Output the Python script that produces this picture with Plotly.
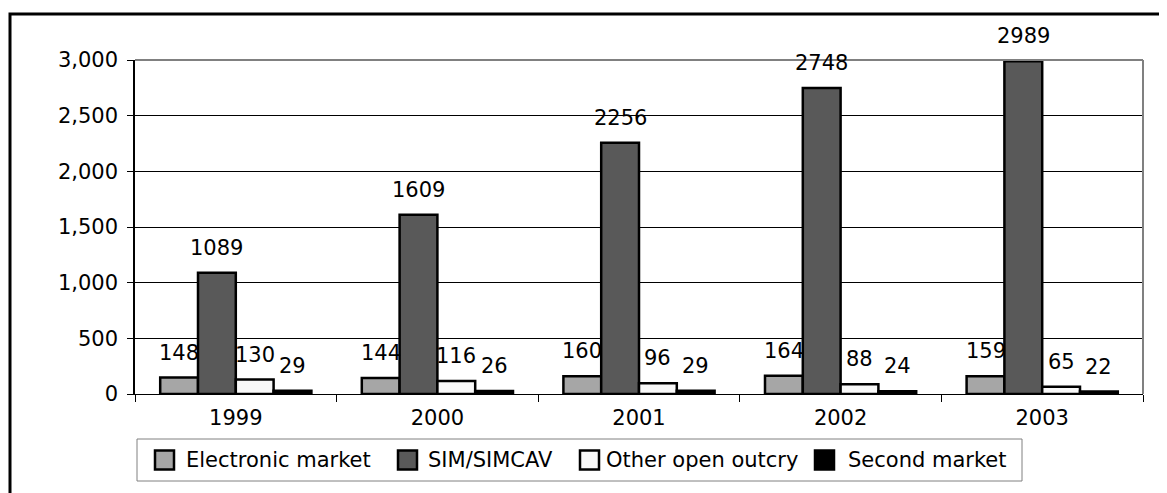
import plotly.graph_objects as go

# values
years = ["1999", "2000", "2001", "2002", "2003"]
electronic = [148, 144, 160, 164, 159]
sim_simcav = [1089, 1609, 2256, 2748, 2989]
other_outcry = [130, 116, 96, 88, 65]
second_market = [29, 26, 29, 24, 22]

series_names = ["Electronic market", "SIM/SIMCAV", "Other open outcry", "Second market"]
series_values = [electronic, sim_simcav, other_outcry, second_market]
colors = ["#a6a6a6", "#595959", "#f8f8f8", "#000000"]

y_ticks = [0, 500, 1000, 1500, 2000, 2500, 3000]

FONT = "DejaVu Sans"
FS = 21
OFF = 8  # page body margin around the plot div
W, H = 1167 - OFF, 493 - OFF
L, R, T, B = 135 - OFF, 24, 60 - OFF, 99
BARGAP = 0.25

# legend layout (page pixels): swatch left edges and label left edges
LEG_BOX = (137, 439, 1022, 481)
LEG_SWATCH_X = [155, 398, 580, 815]
LEG_TEXT_X = [184, 426, 604, 846]
LEG_MID_Y = 460
SWATCH = 19

fig = go.Figure()

for name, vals, col in zip(series_names, series_values, colors):
    fig.add_bar(name=name, x=years, y=vals, marker_color=col,
                marker_line=dict(color="black", width=2.5), showlegend=False)

# value labels above each bar (x given as category index)
plot_w = W - L - R
plot_h = H - T - B
bar_w = plot_w / len(years) * (1 - BARGAP) / len(series_names)
for i, vals in enumerate(series_values):
    for j, v in enumerate(vals):
        fig.add_annotation(x=j, y=v, text=str(v), showarrow=False,
                           xshift=(i - 1.5) * bar_w, yshift=11, yanchor="bottom",
                           font=dict(size=FS, color="black", family=FONT))


# convert page pixels of the reference to paper coordinates
def px_x(p):
    return (p - OFF - L) / plot_w


def px_y(p):
    return (H - B - (p - OFF)) / plot_h


shapes = [
    # outer chart frame
    dict(type="rect", xref="paper", yref="paper", x0=px_x(10), x1=px_x(1175),
         y0=px_y(14), y1=px_y(505), line=dict(color="black", width=3)),
    # grey top and right border of plot area
    dict(type="line", xref="paper", yref="paper", x0=0, x1=1, y0=1, y1=1,
         line=dict(color="#808080", width=2)),
    dict(type="line", xref="paper", yref="paper", x0=1, x1=1, y0=0, y1=1,
         line=dict(color="#808080", width=2)),
    # legend box
    dict(type="rect", xref="paper", yref="paper",
         x0=px_x(LEG_BOX[0]), x1=px_x(LEG_BOX[2]),
         y0=px_y(LEG_BOX[1]), y1=px_y(LEG_BOX[3]),
         line=dict(color="#808080", width=1), fillcolor="white"),
]

# legend swatches and labels
for name, col, sx, tx in zip(series_names, colors, LEG_SWATCH_X, LEG_TEXT_X):
    shapes.append(dict(type="rect", xref="paper", yref="paper",
                       x0=px_x(sx), x1=px_x(sx + SWATCH),
                       y0=px_y(LEG_MID_Y - SWATCH / 2), y1=px_y(LEG_MID_Y + SWATCH / 2),
                       line=dict(color="black", width=2.5), fillcolor=col))
    fig.add_annotation(xref="paper", yref="paper", x=px_x(tx), y=px_y(LEG_MID_Y),
                       text=name, showarrow=False, xanchor="left", yanchor="middle",
                       font=dict(size=FS, color="black", family=FONT))

fig.update_layout(
    width=W, height=H,
    margin=dict(l=L, r=R, t=T, b=B),
    barmode="group", bargap=BARGAP, bargroupgap=0,
    plot_bgcolor="white", paper_bgcolor="white",
    font=dict(family=FONT, size=FS, color="black"),
    shapes=shapes,
    showlegend=False,
    xaxis=dict(type="category", range=[-0.5, len(years) - 0.5],
               showline=True, linecolor="black", linewidth=1,
               ticks="outside", tickson="boundaries", ticklen=7,
               tickcolor="black", showgrid=False, ticklabelstandoff=5,
               tickfont=dict(size=FS)),
    yaxis=dict(range=[0, 3000], tickvals=y_ticks, tickformat=",",
               showline=True, linecolor="black", linewidth=1.5,
               ticks="outside", ticklen=6, tickcolor="black",
               showgrid=True, gridcolor="black", gridwidth=1,
               zeroline=False, ticklabelstandoff=5,
               tickfont=dict(size=FS)),
)

fig.write_html("out.html")
